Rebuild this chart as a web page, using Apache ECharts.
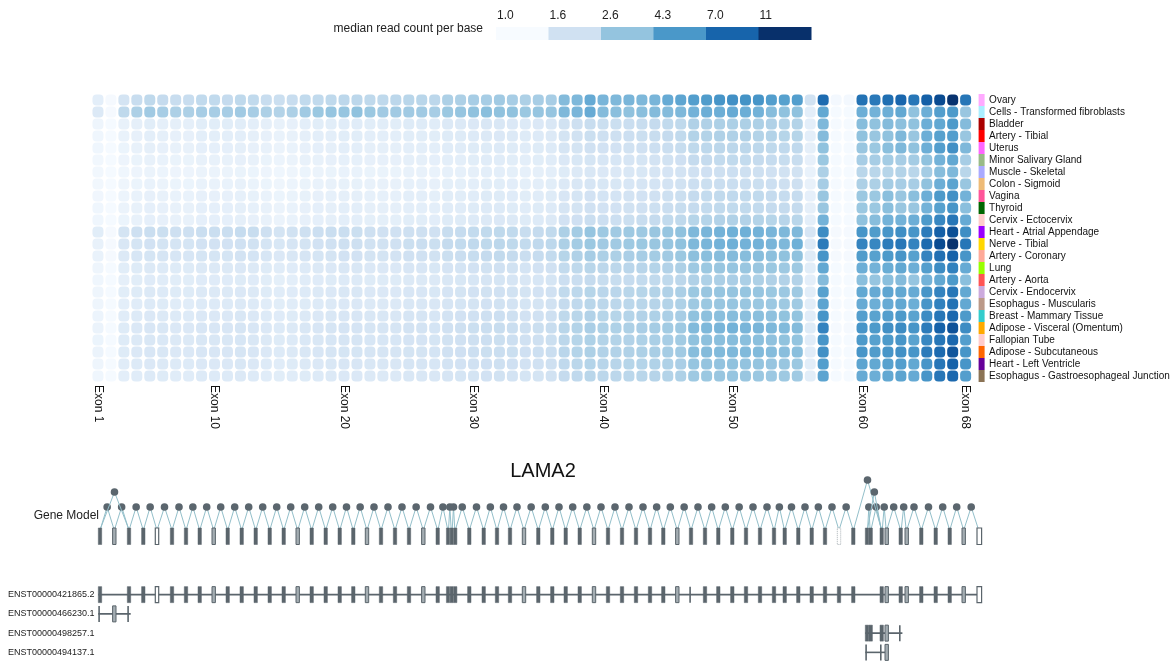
<!DOCTYPE html>
<html><head><meta charset="utf-8">
<script src="https://cdn.jsdelivr.net/npm/echarts@6.0.0/dist/echarts.min.js"></script>
<style>html,body{margin:0;padding:0;background:#fff}#chart{width:1175px;height:662px}</style>
</head><body><div id="chart"></div><script>
const FONT = '"Liberation Sans", Arial, Helvetica, sans-serif';

const geneName = 'LAMA2';
const tissues = ['Ovary','Cells - Transformed fibroblasts','Bladder','Artery - Tibial','Uterus','Minor Salivary Gland','Muscle - Skeletal','Colon - Sigmoid','Vagina','Thyroid','Cervix - Ectocervix','Heart - Atrial Appendage','Nerve - Tibial','Artery - Coronary','Lung','Artery - Aorta','Cervix - Endocervix','Esophagus - Muscularis','Breast - Mammary Tissue','Adipose - Visceral (Omentum)','Fallopian Tube','Adipose - Subcutaneous','Heart - Left Ventricle','Esophagus - Gastroesophageal Junction'];
const tissueColors = ['#FFAAFF','#AAEEFF','#AA0000','#FF0000','#FF66FF','#99BB88','#AAAAFF','#EEBB77','#FF5599','#006600','#FFCCCC','#9900FF','#FFD700','#FFAA99','#99FF00','#FF5555','#CCAADD','#BB9988','#33CCCC','#FFAA00','#FFCCCC','#FF6600','#660099','#8B7355'];

const exonCount = 68;
const exonTickNumbers = [1,10,20,30,40,50,60,68];
const legendTicks = ['1.0','1.6','2.6','4.3','7.0','11'];
const legendColors = ['#f7fbff','#d0e1f2','#94c4df','#4a98c9','#1764ab','#08306b'];
const colorScaleMax = 11.3;
const blues = ['#f7fbff','#e3eef9','#d0e1f2','#b5d4e9','#94c4df','#6baed6','#4a98c9','#2e7ebc','#1764ab','#0a4a90','#08306b'];

// median read count per base, one row per tissue, exon 1..68
const medianReadCounts = [
 /* Ovary */ [1.27,1.03,1.55,1.75,1.9,1.8,1.75,1.75,1.85,1.85, 1.8,1.9,1.85,1.75,1.7,1.75,1.85,1.85,1.9,1.95, 1.95,1.9,1.9,1.95,2.0,2.0,1.95,2.2,2.2,2.3, 2.3,2.4,2.3,2.2,2.3,2.3,2.9,3.0,3.5,3.1, 3.0,3.1,3.0,3.1,3.5,3.7,4.0,4.1,4.4,4.6, 4.5,4.4,4.0,3.9,4.0,1.6,6.5,1.05,1.05,6.1, 5.7,6.3,6.8,5.9,7.2,8.8,11.0,5.9],
 /* Fibroblasts */ [1.4,1.03,1.9,2.2,2.4,2.3,2.2,2.2,2.3,2.3, 2.3,2.4,2.3,2.2,2.1,2.2,2.4,2.5,2.6,2.6, 2.7,2.5,2.4,2.4,2.4,2.4,2.3,2.5,2.6,2.7, 2.8,2.7,2.7,2.5,2.6,2.6,3.0,3.1,3.5,2.9, 2.8,2.7,2.8,2.9,2.9,3.0,3.2,3.35,3.35,3.5, 3.35,3.2,2.85,2.7,2.7,1.27,3.6,1.02,1.02,3.35, 3.2,3.35,3.6,2.7,3.35,4.0,4.2,2.55],
 /* Bladder */ [1.12,1.02,1.2,1.25,1.3,1.25,1.25,1.25,1.3,1.3, 1.3,1.3,1.28,1.25,1.2,1.22,1.28,1.3,1.3,1.33, 1.33,1.3,1.3,1.3,1.35,1.35,1.33,1.4,1.4,1.42, 1.45,1.45,1.42,1.38,1.42,1.45,1.6,1.65,1.75,1.7, 1.7,1.72,1.75,1.8,1.85,1.9,2.15,2.15,2.2,2.2, 2.2,2.2,2.15,2.1,2.1,1.28,3.0,1.02,1.02,2.85, 2.7,2.9,2.75,2.7,3.35,3.6,4.2,2.9],
 /* Artery - Tibial */ [1.1,1.02,1.18,1.22,1.27,1.25,1.22,1.22,1.27,1.27, 1.27,1.28,1.25,1.22,1.18,1.2,1.25,1.27,1.27,1.3, 1.3,1.28,1.28,1.28,1.3,1.3,1.3,1.35,1.35,1.38, 1.4,1.42,1.4,1.35,1.38,1.4,1.55,1.6,1.7,1.65, 1.65,1.68,1.7,1.75,1.8,1.85,2.1,2.1,2.15,2.15, 2.15,2.1,2.1,2.05,2.05,1.27,2.9,1.02,1.02,2.7, 2.55,2.7,3.0,2.55,3.35,3.9,4.0,2.55],
 /* Uterus */ [1.1,1.02,1.15,1.2,1.25,1.22,1.2,1.2,1.24,1.24, 1.24,1.25,1.22,1.2,1.16,1.18,1.22,1.24,1.25,1.27, 1.27,1.25,1.25,1.25,1.28,1.28,1.27,1.32,1.32,1.35, 1.36,1.38,1.36,1.32,1.35,1.37,1.5,1.55,1.62,1.58, 1.58,1.6,1.62,1.68,1.72,1.76,1.9,1.92,1.95,1.95, 1.95,1.93,1.9,1.88,1.88,1.25,2.7,1.02,1.02,2.55, 2.5,2.8,3.0,2.7,3.35,4.0,4.6,3.0],
 /* Minor Salivary Gland */ [1.08,1.02,1.13,1.17,1.2,1.18,1.17,1.17,1.2,1.2, 1.2,1.22,1.2,1.17,1.14,1.16,1.2,1.2,1.22,1.23, 1.23,1.22,1.22,1.22,1.25,1.25,1.24,1.28,1.28,1.3, 1.32,1.33,1.3,1.28,1.3,1.32,1.42,1.46,1.52,1.48, 1.48,1.5,1.52,1.56,1.6,1.64,1.8,1.8,1.82,1.85, 1.82,1.8,1.78,1.76,1.75,1.22,2.5,1.02,1.02,2.3, 2.3,2.35,2.3,2.35,2.7,3.2,3.6,2.3],
 /* Muscle - Skeletal */ [1.07,1.02,1.1,1.13,1.16,1.14,1.13,1.13,1.16,1.16, 1.16,1.17,1.15,1.13,1.1,1.12,1.15,1.16,1.17,1.18, 1.18,1.17,1.17,1.17,1.2,1.2,1.19,1.23,1.23,1.25, 1.27,1.28,1.26,1.23,1.25,1.27,1.36,1.4,1.45,1.42, 1.42,1.44,1.46,1.5,1.53,1.56,1.62,1.64,1.66,1.68, 1.66,1.66,1.62,1.6,1.6,1.18,2.2,1.02,1.02,2.0, 2.0,2.05,2.1,2.0,2.35,2.85,3.0,2.0],
 /* Colon - Sigmoid */ [1.08,1.02,1.12,1.15,1.18,1.16,1.15,1.15,1.18,1.18, 1.18,1.2,1.17,1.15,1.12,1.14,1.17,1.18,1.2,1.21, 1.21,1.2,1.2,1.2,1.23,1.23,1.22,1.26,1.26,1.28, 1.3,1.31,1.29,1.26,1.28,1.3,1.4,1.44,1.5,1.46, 1.46,1.48,1.5,1.54,1.57,1.6,1.68,1.7,1.72,1.72, 1.72,1.7,1.68,1.66,1.66,1.2,2.3,1.02,1.02,2.2, 2.2,2.35,2.3,2.3,2.7,3.35,3.75,2.55],
 /* Vagina */ [1.09,1.02,1.14,1.18,1.22,1.2,1.18,1.18,1.22,1.22, 1.22,1.23,1.21,1.18,1.15,1.17,1.21,1.22,1.23,1.25, 1.25,1.23,1.23,1.23,1.27,1.27,1.26,1.3,1.3,1.33, 1.35,1.36,1.34,1.3,1.33,1.35,1.47,1.52,1.58,1.54, 1.54,1.56,1.58,1.63,1.67,1.7,1.8,1.82,1.85,1.87, 1.85,1.85,1.8,1.78,1.78,1.24,2.55,1.02,1.02,2.5, 2.5,2.8,2.55,2.8,3.35,4.2,4.6,3.2],
 /* Thyroid */ [1.1,1.02,1.16,1.2,1.24,1.22,1.2,1.2,1.24,1.24, 1.24,1.25,1.23,1.2,1.16,1.18,1.22,1.24,1.25,1.27, 1.27,1.25,1.25,1.25,1.28,1.28,1.27,1.32,1.32,1.35, 1.37,1.38,1.36,1.32,1.35,1.37,1.5,1.55,1.62,1.58, 1.58,1.6,1.62,1.67,1.72,1.76,1.8,1.82,1.85,1.85, 1.85,1.83,1.8,1.8,1.8,1.25,2.55,1.02,1.02,2.5, 2.5,2.8,2.55,2.55,3.2,3.9,4.4,2.8],
 /* Cervix - Ectocervix */ [1.1,1.02,1.15,1.2,1.24,1.22,1.2,1.2,1.24,1.24, 1.24,1.25,1.22,1.2,1.16,1.18,1.22,1.24,1.25,1.28, 1.28,1.26,1.26,1.26,1.3,1.3,1.29,1.35,1.35,1.38, 1.4,1.42,1.4,1.35,1.38,1.4,1.58,1.64,1.72,1.68, 1.68,1.7,1.74,1.8,1.85,1.9,2.05,2.08,2.12,2.15, 2.12,2.1,2.05,2.02,2.0,1.28,3.2,1.02,1.02,2.7, 2.85,3.2,3.2,3.35,4.2,5.0,5.9,3.5],
 /* Heart - Atrial Appendage */ [1.3,1.03,1.55,1.65,1.72,1.7,1.65,1.65,1.72,1.72, 1.72,1.78,1.75,1.65,1.55,1.6,1.65,1.68,1.72,1.72, 1.7,1.65,1.62,1.62,1.65,1.65,1.62,1.75,1.78,1.82, 1.85,1.9,1.85,1.75,1.8,1.85,2.2,2.35,2.6,2.45, 2.4,2.45,2.45,2.55,2.6,2.7,3.0,3.1,3.2,3.3, 3.3,3.2,3.1,3.0,3.0,1.5,4.8,1.03,1.03,4.4, 4.1,4.4,4.7,4.4,5.6,7.2,8.5,4.7],
 /* Nerve - Tibial */ [1.2,1.03,1.45,1.52,1.58,1.55,1.52,1.52,1.58,1.58, 1.58,1.62,1.6,1.52,1.46,1.5,1.55,1.58,1.62,1.65, 1.65,1.6,1.6,1.62,1.7,1.72,1.7,1.8,1.82,1.88, 1.9,1.95,1.9,1.82,1.88,1.92,2.2,2.35,2.5,2.4, 2.4,2.45,2.5,2.55,2.6,2.7,3.0,3.1,3.2,3.3, 3.2,3.2,3.1,3.0,3.3,1.4,5.6,1.03,1.03,5.2, 5.0,5.6,5.9,5.2,6.6,8.8,11.0,5.9],
 /* Artery - Coronary */ [1.18,1.03,1.4,1.48,1.52,1.5,1.48,1.48,1.52,1.52, 1.52,1.56,1.54,1.48,1.42,1.45,1.5,1.52,1.55,1.58, 1.58,1.55,1.55,1.56,1.62,1.62,1.6,1.7,1.72,1.76, 1.8,1.84,1.8,1.72,1.78,1.82,2.05,2.15,2.3,2.2, 2.2,2.25,2.3,2.35,2.4,2.5,2.75,2.8,2.85,2.9, 2.85,2.85,2.75,2.7,2.7,1.35,4.4,1.03,1.03,4.1, 3.9,4.2,4.4,3.9,5.2,6.2,7.1,4.4],
 /* Lung */ [1.12,1.02,1.3,1.36,1.4,1.38,1.36,1.36,1.4,1.4, 1.4,1.42,1.4,1.36,1.32,1.34,1.38,1.4,1.42,1.44, 1.44,1.42,1.42,1.42,1.47,1.47,1.46,1.53,1.54,1.58, 1.6,1.62,1.6,1.54,1.58,1.62,1.82,1.9,2.0,1.95, 1.95,1.98,2.02,2.08,2.12,2.2,2.45,2.5,2.55,2.6, 2.55,2.55,2.5,2.45,2.45,1.3,3.6,1.02,1.02,3.35, 3.2,3.4,3.6,3.35,4.0,4.8,5.3,3.5],
 /* Artery - Aorta */ [1.1,1.02,1.25,1.3,1.34,1.32,1.3,1.3,1.34,1.34, 1.34,1.36,1.34,1.3,1.26,1.28,1.32,1.34,1.36,1.38, 1.38,1.36,1.36,1.36,1.4,1.4,1.39,1.44,1.46,1.48, 1.5,1.52,1.5,1.45,1.48,1.52,1.68,1.72,1.8,1.76, 1.76,1.78,1.82,1.86,1.9,1.95,2.15,2.18,2.22,2.25, 2.22,2.2,2.15,2.12,2.12,1.28,2.9,1.02,1.02,2.8, 2.6,2.8,2.9,2.6,3.2,3.6,4.2,2.8],
 /* Cervix - Endocervix */ [1.12,1.02,1.3,1.35,1.4,1.38,1.35,1.35,1.4,1.4, 1.4,1.42,1.4,1.35,1.32,1.34,1.38,1.4,1.42,1.44, 1.44,1.42,1.42,1.42,1.47,1.47,1.46,1.53,1.55,1.58, 1.6,1.62,1.6,1.55,1.58,1.62,1.85,1.92,2.05,1.98, 1.98,2.0,2.05,2.1,2.15,2.22,2.5,2.55,2.6,2.62, 2.6,2.58,2.5,2.48,2.45,1.3,3.9,1.02,1.02,3.6, 3.5,3.7,3.6,3.5,4.4,5.2,5.9,3.6],
 /* Esophagus - Muscularis */ [1.11,1.02,1.28,1.33,1.38,1.36,1.33,1.33,1.38,1.38, 1.38,1.4,1.38,1.33,1.3,1.32,1.36,1.38,1.4,1.42, 1.42,1.4,1.4,1.4,1.45,1.45,1.44,1.5,1.52,1.55, 1.58,1.6,1.57,1.52,1.55,1.6,1.8,1.88,2.0,1.94, 1.94,1.97,2.0,2.06,2.1,2.18,2.45,2.5,2.55,2.58, 2.55,2.52,2.48,2.45,2.42,1.3,3.75,1.02,1.02,3.5, 3.35,3.5,3.6,3.35,4.4,5.3,6.1,3.6],
 /* Breast - Mammary Tissue */ [1.14,1.02,1.32,1.38,1.42,1.4,1.38,1.38,1.42,1.42, 1.42,1.45,1.42,1.38,1.34,1.36,1.4,1.42,1.45,1.47, 1.47,1.45,1.45,1.45,1.5,1.5,1.48,1.56,1.58,1.62, 1.65,1.68,1.65,1.58,1.62,1.66,1.9,2.0,2.12,2.05, 2.05,2.08,2.12,2.18,2.22,2.3,2.7,2.75,2.8,2.85, 2.8,2.8,2.72,2.68,2.65,1.32,4.4,1.02,1.02,4.0, 3.8,4.0,4.2,3.8,4.8,5.9,6.7,4.2],
 /* Adipose - Visceral (Omentum) */ [1.16,1.02,1.36,1.42,1.47,1.45,1.42,1.42,1.47,1.47, 1.47,1.5,1.47,1.42,1.38,1.4,1.45,1.47,1.5,1.53, 1.53,1.5,1.5,1.5,1.56,1.56,1.54,1.63,1.65,1.7, 1.72,1.75,1.72,1.65,1.7,1.75,2.0,2.1,2.25,2.18, 2.18,2.2,2.25,2.32,2.38,2.45,2.95,3.0,3.1,3.2, 3.1,3.1,3.0,2.95,2.9,1.35,5.2,1.03,1.03,4.4, 4.2,4.6,4.8,4.4,5.6,7.1,8.2,4.8],
 /* Fallopian Tube */ [1.15,1.02,1.35,1.4,1.45,1.43,1.4,1.4,1.45,1.45, 1.45,1.48,1.45,1.4,1.36,1.38,1.43,1.45,1.48,1.5, 1.5,1.48,1.48,1.48,1.53,1.53,1.52,1.6,1.62,1.66, 1.68,1.7,1.68,1.62,1.66,1.7,1.95,2.05,2.18,2.1, 2.1,2.12,2.18,2.24,2.3,2.38,2.7,2.75,2.8,2.85, 2.8,2.8,2.72,2.68,2.65,1.32,4.4,1.02,1.02,4.2, 3.9,4.2,4.4,3.8,5.0,5.9,6.7,4.0],
 /* Adipose - Subcutaneous */ [1.16,1.02,1.36,1.42,1.47,1.45,1.42,1.42,1.47,1.47, 1.47,1.5,1.47,1.42,1.38,1.4,1.45,1.47,1.5,1.52, 1.52,1.5,1.5,1.5,1.55,1.55,1.54,1.62,1.64,1.68, 1.7,1.72,1.7,1.64,1.68,1.72,1.98,2.08,2.2,2.12, 2.12,2.15,2.2,2.26,2.32,2.4,2.85,2.9,2.95,3.0, 2.95,2.95,2.88,2.82,2.8,1.33,4.6,1.02,1.02,4.4, 4.1,4.4,4.6,4.4,5.6,6.6,8.0,4.4],
 /* Heart - Left Ventricle */ [1.12,1.02,1.32,1.37,1.42,1.4,1.37,1.37,1.42,1.42, 1.42,1.45,1.42,1.37,1.33,1.35,1.4,1.42,1.45,1.47, 1.47,1.45,1.45,1.45,1.5,1.5,1.48,1.56,1.58,1.62, 1.64,1.66,1.64,1.58,1.62,1.66,1.88,1.96,2.08,2.02, 2.02,2.05,2.08,2.14,2.18,2.25,2.6,2.62,2.66,2.7, 2.66,2.64,2.58,2.55,2.5,1.3,4.0,1.02,1.02,3.75, 3.6,3.9,4.0,3.6,4.4,5.9,7.1,4.4],
 /* Esophagus - GE Junction */ [1.1,1.02,1.28,1.33,1.37,1.35,1.33,1.33,1.37,1.37, 1.37,1.4,1.37,1.33,1.3,1.32,1.35,1.37,1.4,1.42, 1.42,1.4,1.4,1.4,1.45,1.45,1.44,1.5,1.52,1.55, 1.58,1.6,1.57,1.52,1.55,1.6,1.8,1.88,2.0,1.94, 1.94,1.97,2.0,2.06,2.1,2.18,2.45,2.5,2.55,2.58, 2.55,2.52,2.48,2.45,2.42,1.3,3.75,1.02,1.02,3.5, 3.35,3.6,3.75,3.5,4.4,5.9,6.7,4.0]
];

// gene model (compressed coordinates), exon 1..68
const exonStart = [0.3,14.6,29.3,43.6,57.3,72.3,86.3,100.0,114.0,128.0, 142.0,156.0,170.0,184.0,198.0,212.0,226.0,240.0,253.6,267.3, 281.3,295.3,309.3,323.6,338.0,348.4,352.1,355.7,369.6,384.0, 397.3,410.3,424.3,438.6,452.6,466.0,480.0,494.3,508.3,522.3, 536.3,550.3,563.6,577.6,591.3,605.3,618.6,632.6,646.3,660.3, 674.3,685.0,698.6,712.0,725.3,739.3,753.6,767.3,771.0,782.0, 787.0,801.0,807.0,821.6,836.0,850.0,864.0,879.0];
const exonEnd = [3.7,18.0,32.7,47.0,60.7,75.7,89.7,103.4,117.4,131.4, 145.4,159.4,173.4,187.4,201.4,215.4,229.4,243.4,257.0,270.7, 284.7,298.7,312.7,327.0,341.4,351.6,355.3,358.9,373.0,387.4, 400.7,413.7,427.7,442.0,456.0,469.4,483.4,497.7,511.7,525.7, 539.7,553.7,567.0,581.0,594.7,608.7,622.0,636.0,649.7,663.7, 677.7,688.4,702.0,715.4,728.7,742.7,757.0,770.7,774.4,785.4, 790.4,804.4,810.4,825.0,839.4,853.4,867.4,883.6];
const partialExons = [2,9,15,20,24,33,38,44,61,63,67];
const hollowExons = [5,68];
const faintExons = [56];
// junctions: [fromExon, toExon, level]
const skippingJunctions = [[1,3,1],[57,60,2],[58,60,1]];
const missingAdjacentJunctions = [57];

const isoformNames = ['ENST00000421865.2','ENST00000466230.1','ENST00000498257.1','ENST00000494137.1'];
const isoformExons = [
 [1,3,4,5,6,7,8,9,10,11,12,13,14,15,16,17,18,19,20,21,22,23,24,25,26,27,28,29,30,31,32,33,34,35,36,37,38,39,40,41,42,43,44,45,46,47,48,49,50,51,52,53,54,55,56,57,60,61,62,63,64,65,66,67,68],
 [1,2,3],
 [58,59,60,61,62],
 [58,60,61]
];
const isoformThinExons = [[45],[1,3],[62],[58,60]];

// ---------- build ----------
const exonNames = [];
for (let i = 1; i <= exonCount; i++) exonNames.push('Exon ' + i);
const tickSet = new Set(exonTickNumbers.map(n => n - 1));

const cellData = [];
medianReadCounts.forEach((row, r) => row.forEach((v, c) => cellData.push([c, r, Math.log(Math.max(v, 1)), v])));

const kindOf = (n) => partialExons.includes(n) ? 1 : hollowExons.includes(n) ? 2 : faintExons.includes(n) ? 3 : 0;
const geneExonData = exonStart.map((s, i) => [s, exonEnd[i], kindOf(i + 1)]);

const junctions = [];
for (let i = 1; i < exonCount; i++) if (!missingAdjacentJunctions.includes(i)) junctions.push([i, i + 1, 0]);
skippingJunctions.forEach(j => junctions.push(j));

const isoExonData = [];
const isoLineData = [];
isoformExons.forEach((list, r) => {
  list.forEach(n => {
    let k = kindOf(n); if (k === 3) k = 0;
    if (isoformThinExons[r].includes(n)) k = 4;
    isoExonData.push([exonStart[n - 1], r, exonEnd[n - 1], k]);
  });
  isoLineData.push([exonStart[list[0] - 1], r, exonEnd[list[list.length - 1] - 1]]);
});

const DARK = '#5b656c';
function exonStyle(k) {
  if (k === 1) return { fill: '#a4adb2', stroke: DARK, lineWidth: 1 };
  if (k === 2) return { fill: '#ffffff', stroke: DARK, lineWidth: 1.2 };
  if (k === 3) return { fill: 'none', stroke: '#a9b1b6', lineWidth: 1, lineDash: [1, 1] };
  return { fill: DARK, stroke: DARK, lineWidth: 0.5 };
}
const levelRise = [21, 36, 48];

const legendGraphics = [];
const boxW = 52.5;
legendTicks.forEach((t, i) => {
  legendGraphics.push({ type: 'rect', left: 496 + i * boxW, top: 27, shape: { width: boxW + 0.5, height: 13 }, style: { fill: legendColors[i] }, silent: true });
  legendGraphics.push({ type: 'text', x: 497 + i * boxW, y: 16, style: { text: t, font: '12px ' + FONT, fill: '#222', textAlign: 'left', textVerticalAlign: 'middle' }, silent: true });
});
legendGraphics.push({ type: 'text', x: 483, y: 29, style: { text: 'median read count per base', font: '12px ' + FONT, fill: '#222', textAlign: 'right', textVerticalAlign: 'middle' }, silent: true });
legendGraphics.push({ type: 'text', x: 99, y: 516, style: { text: 'Gene Model', font: '12px ' + FONT, fill: '#222', textAlign: 'right', textVerticalAlign: 'middle' }, silent: true });

const chart = echarts.init(document.getElementById('chart'), null, { renderer: 'canvas' });
chart.setOption({
  animation: false,
  backgroundColor: '#fff',
  textStyle: { fontFamily: FONT },
  title: { text: geneName, left: 538, top: 456, textAlign: 'center', textStyle: { fontSize: 20, fontWeight: 'normal', color: '#111', fontFamily: FONT } },
  graphic: legendGraphics,
  grid: [
    { left: 91.5, width: 880.6, top: 94, height: 288 },
    { left: 98, width: 884, top: 528, height: 16.5 },
    { left: 98, width: 884, top: 585, height: 78 }
  ],
  xAxis: [
    { type: 'category', gridIndex: 0, data: exonNames, axisLine: { show: false }, axisTick: { show: false },
      axisLabel: { interval: (idx) => tickSet.has(idx), rotate: -90, margin: 3, fontSize: 12, color: '#111', fontFamily: FONT } },
    { type: 'value', gridIndex: 1, min: 0, max: 884, show: false },
    { type: 'value', gridIndex: 2, min: 0, max: 884, show: false }
  ],
  yAxis: [
    { type: 'category', gridIndex: 0, data: tissues, inverse: true, position: 'right', axisLine: { show: false }, axisTick: { show: false },
      axisLabel: { interval: 0, margin: 17, fontSize: 10, color: '#111', fontFamily: FONT } },
    { type: 'value', gridIndex: 1, min: 0, max: 1, show: false },
    { type: 'category', gridIndex: 2, data: isoformNames, inverse: true, axisLine: { show: false }, axisTick: { show: false },
      axisLabel: { interval: 0, align: 'left', margin: 90, fontSize: 9, color: '#222', fontFamily: FONT } }
  ],
  visualMap: { type: 'continuous', show: false, seriesIndex: 0, dimension: 2, min: 0, max: Math.log(colorScaleMax), inRange: { color: blues } },
  series: [
    { type: 'custom', xAxisIndex: 0, yAxisIndex: 0, data: cellData, encode: { x: 0, y: 1 },
      renderItem: (params, api) => {
        const p = api.coord([api.value(0), api.value(1)]);
        return { type: 'rect', shape: { x: p[0] - 5.5, y: p[1] - 5.5, width: 11, height: 11, r: 4 }, style: { fill: api.visual('color') } };
      } },
    { type: 'custom', xAxisIndex: 0, yAxisIndex: 0, clip: false, silent: true, data: tissues.map((t, i) => [exonCount - 1, i]), encode: { x: 0, y: 1 },
      renderItem: (params, api) => {
        const p = api.coord([api.value(0), api.value(1)]);
        const s = api.size([1, 1]);
        return { type: 'rect', shape: { x: p[0] + s[0] / 2 + 6.5, y: p[1] - s[1] / 2, width: 6, height: s[1] }, style: { fill: tissueColors[params.dataIndex] } };
      } },
    { type: 'custom', xAxisIndex: 1, yAxisIndex: 1, clip: false, silent: true, data: junctions,
      renderItem: (params, api) => {
        const from = api.value(0), to = api.value(1), lvl = api.value(2);
        const a = api.coord([exonEnd[from - 1] - 1, 1]);
        const b = api.coord([exonStart[to - 1] + 1, 1]);
        const cx = (a[0] + b[0]) / 2, cy = a[1] - levelRise[lvl];
        return { type: 'group', children: [
          { type: 'polyline', shape: { points: [a, [cx, cy], b] }, style: { stroke: '#93bfca', lineWidth: 1, fill: null } },
          { type: 'circle', shape: { cx: cx, cy: cy, r: 3.8 }, style: { fill: '#5b666e' } }
        ] };
      } },
    { type: 'custom', xAxisIndex: 1, yAxisIndex: 1, clip: false, silent: true, data: geneExonData,
      renderItem: (params, api) => {
        const a = api.coord([api.value(0), 0]);
        const b = api.coord([api.value(1), 1]);
        return { type: 'rect', shape: { x: a[0], y: b[1], width: b[0] - a[0], height: a[1] - b[1] }, style: exonStyle(api.value(2)) };
      } },
    { type: 'custom', xAxisIndex: 2, yAxisIndex: 2, clip: false, silent: true, data: isoLineData,
      renderItem: (params, api) => {
        const a = api.coord([api.value(0), api.value(1)]);
        const b = api.coord([api.value(2), api.value(1)]);
        return { type: 'line', shape: { x1: a[0], y1: a[1], x2: b[0], y2: b[1] }, style: { stroke: DARK, lineWidth: 1.6 } };
      } },
    { type: 'custom', xAxisIndex: 2, yAxisIndex: 2, clip: false, silent: true, data: isoExonData,
      renderItem: (params, api) => {
        const a = api.coord([api.value(0), api.value(1)]);
        const b = api.coord([api.value(2), api.value(1)]);
        const k = api.value(3);
        const h = 16;
        if (k === 4) {
          return { type: 'rect', shape: { x: a[0], y: a[1] - h / 2, width: 1.6, height: h }, style: { fill: DARK } };
        }
        return { type: 'rect', shape: { x: a[0], y: a[1] - h / 2, width: b[0] - a[0], height: h }, style: exonStyle(k) };
      } }
  ]
});
</script></body></html>
